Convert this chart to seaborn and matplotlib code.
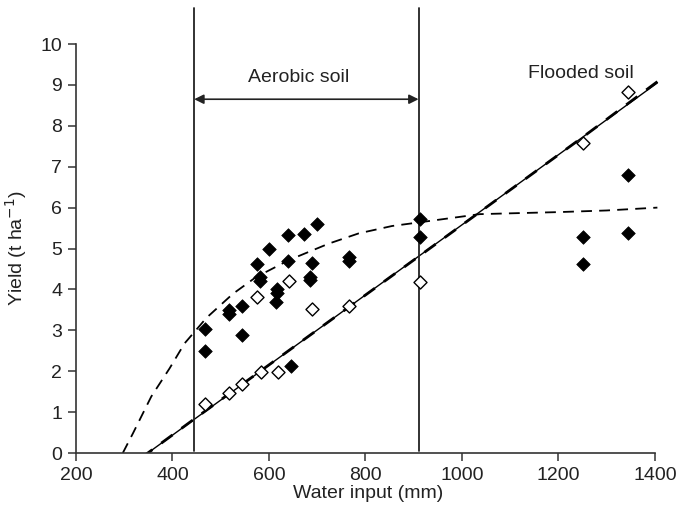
import matplotlib
matplotlib.use("Agg")
import matplotlib.pyplot as plt
import seaborn as sns
import pandas as pd

# Aerobic (filled) observations
aer_x = [468, 468, 518, 518, 544, 544, 576, 582, 582, 600, 615, 617, 617,
         640, 640, 645, 672, 690, 686, 686, 700, 765, 765, 912, 912,
         1250, 1250, 1345, 1345]
aer_y = [3.02, 2.50, 3.50, 3.40, 3.60, 2.88, 4.63, 4.30, 4.20, 5.00, 3.70, 4.00, 3.90,
         5.33, 4.70, 2.13, 5.35, 4.64, 4.30, 4.22, 5.60, 4.80, 4.70, 5.71, 5.29,
         5.29, 4.62, 5.39, 6.80]

# Flooded (open) observations
fl_x = [468, 518, 544, 583, 618, 576, 641, 690, 765, 912, 1250, 1345]
fl_y = [1.20, 1.47, 1.69, 1.98, 1.99, 3.81, 4.20, 3.51, 3.59, 4.19, 7.58, 8.83]

# Fitted curve for aerobic soil
cur_x = [297, 318, 356, 394, 425, 444, 470, 525, 573, 642, 724, 786, 855, 912,
         1037, 1100, 1200, 1300, 1405]
cur_y = [0.0, 0.48, 1.38, 2.07, 2.68, 2.94, 3.30, 3.89, 4.30, 4.72, 5.12, 5.37,
         5.55, 5.64, 5.84, 5.86, 5.89, 5.93, 6.00]

# Linear fits for flooded soil
lin_x = [349, 1405]
lin_y = [0.0, 9.05]
fit_x = [335, 445, 912, 1250, 1405]
fit_y = [-0.12, 0.83, 4.82, 7.72, 9.08]

bounds = [445, 910]
xticks = [200, 400, 600, 800, 1000, 1200, 1400]
yticks = list(range(0, 11))

sns.set_theme(style="white")
plt.rcParams["font.family"] = ["Liberation Sans", "DejaVu Sans"]
txt = "#222222"
fs = 14

fig = plt.figure(figsize=(6.79, 5.23), dpi=100)
ax = fig.add_axes([76 / 679, 70 / 523, 583.8 / 679, 445.8 / 523])

sns.lineplot(x=cur_x, y=cur_y, ax=ax, color="black", lw=1.3,
             estimator=None, sort=False).lines[-1].set_dashes([6, 4])
sns.lineplot(x=lin_x, y=lin_y, ax=ax, color="black", lw=1.0,
             estimator=None, sort=False)
l3 = sns.lineplot(x=fit_x, y=fit_y, ax=ax, color="black", lw=2.0,
                  estimator=None, sort=False).lines[-1]
l3.set_dashes([5, 4])

sns.scatterplot(x=aer_x, y=aer_y, ax=ax, marker="D", s=48, color="black",
                edgecolor="black", linewidth=0.5, zorder=5)
sns.scatterplot(x=fl_x, y=fl_y, ax=ax, marker="D", s=44, facecolor="white",
                edgecolor="black", linewidth=1.0, zorder=5)

for b in bounds:
    ax.plot([b, b], [0.05, 10.88], color="#222222", lw=1.3, clip_on=False)

ax.annotate("", xy=(bounds[0], 8.65), xytext=(bounds[1], 8.65),
            arrowprops=dict(arrowstyle="<|-|>", color="#222222", lw=1.2,
                            mutation_scale=14, shrinkA=0, shrinkB=0))
ax.text(662, 9.17, "Aerobic soil", ha="center", va="center", fontsize=fs, color=txt)
ax.text(1246, 9.29, "Flooded soil", ha="center", va="center", fontsize=fs, color=txt)

ax.set_xlim(200, 1410)
ax.set_ylim(0, 10.9)
ax.set_xticks(xticks)
ax.set_yticks(yticks)
ax.spines["top"].set_visible(False)
ax.spines["right"].set_visible(False)
ax.spines["left"].set_bounds(0, 10)
ax.spines["bottom"].set_bounds(200, 1400)
for s in ["left", "bottom"]:
    ax.spines[s].set_color("#333333")
    ax.spines[s].set_linewidth(1.2)
ax.tick_params(axis="both", direction="out", length=6, width=1.1, color="#333333",
               labelsize=fs, labelcolor=txt, left=True, bottom=True, pad=4)
ax.set_xlabel("Water input (mm)", fontsize=fs, color=txt, labelpad=1)
ax.set_ylabel("Yield (t ha$^{-1}$)", fontsize=fs, color=txt, labelpad=8, y=5 / 10.9)

fig.savefig("out.png", dpi=100)
